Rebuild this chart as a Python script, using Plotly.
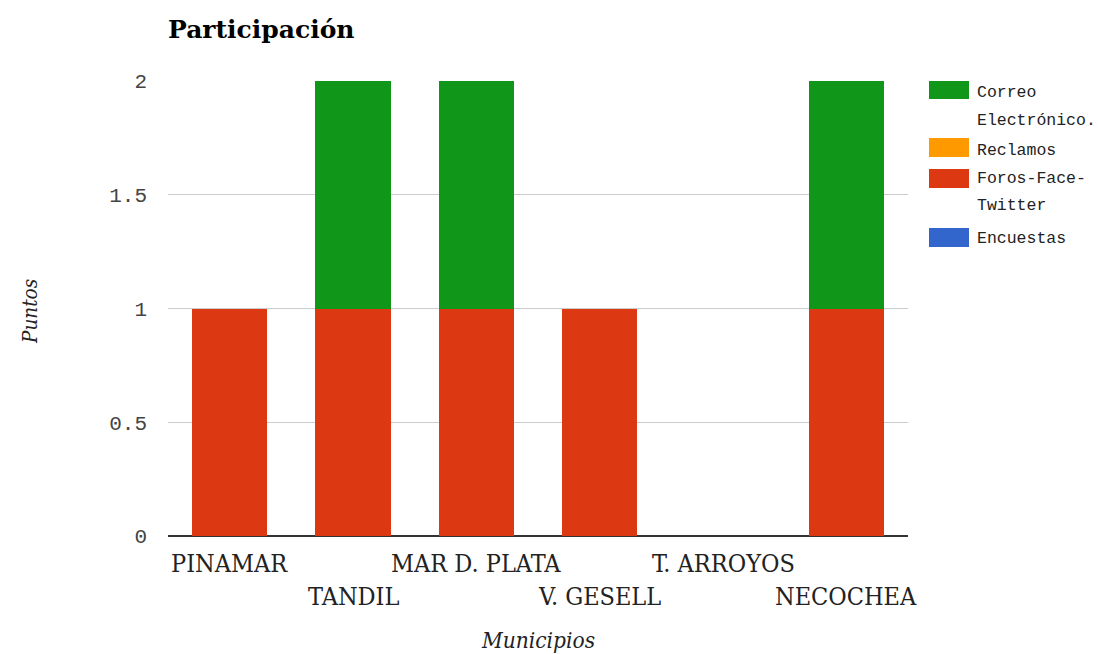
import plotly.graph_objects as go

# Municipios y puntos de participación por canal
municipios = ["PINAMAR", "TANDIL", "MAR D. PLATA", "V. GESELL", "T. ARROYOS", "NECOCHEA"]
correo = [0, 1, 1, 0, 0, 1]
reclamos = [0, 0, 0, 0, 0, 0]
foros = [1, 1, 1, 1, 0, 1]
encuestas = [0, 0, 0, 0, 0, 0]

y_ticks = [0, 0.5, 1, 1.5, 2]
y_tick_text = ["0", "0.5", "1", "1.5", "2"]

# stacking order bottom -> top
series = [
    ("Encuestas", encuestas, "#3366cc"),
    ("Foros-Face-Twitter", foros, "#dc3912"),
    ("Reclamos", reclamos, "#ff9900"),
    ("Correo Electrónico.", correo, "#109618"),
]

label_font = "DejaVu Serif Condensed, DejaVu Serif, serif"
mono_font = "Liberation Mono, Courier New, monospace"

fig = go.Figure()
for name, vals, color in series:
    fig.add_trace(go.Bar(
        x=municipios, y=vals, name=name,
        marker=dict(color=color, line=dict(width=0)),
        showlegend=False,
    ))

W, H = 1098, 654
ml, mr, mt, mb = 168, 190, 81, 118
plot_w = W - ml - mr
plot_h = H - mt - mb


def px(x):
    # pixel column -> paper x (relative to plot area)
    return (x - ml) / plot_w


def py(y):
    # pixel row -> paper y (relative to plot area)
    return (H - mb - y) / plot_h


fig.update_layout(
    width=W, height=H,
    barmode="stack",
    bargap=0.39,
    plot_bgcolor="white", paper_bgcolor="white",
    margin=dict(l=ml, r=mr, t=mt, b=mb, pad=0),
    xaxis=dict(range=[-0.5, len(municipios) - 0.5], autorange=False,
               showticklabels=False, showgrid=False, zeroline=False,
               showline=False, ticks=""),
    yaxis=dict(range=[0, 2], autorange=False, tickvals=y_ticks, ticktext=y_tick_text,
               showgrid=True, gridcolor="#cccccc", gridwidth=1,
               zeroline=True, zerolinecolor="#333333", zerolinewidth=2,
               tickfont=dict(family=mono_font, size=21, color="#444444"),
               ticklabelstandoff=20, showline=False, ticks=""),
)

# category labels, alternating between two rows
annotations = []
for i, m in enumerate(municipios):
    row_y = 563 if i % 2 == 0 else 596
    annotations.append(dict(
        x=m, xref="x", y=py(row_y), yref="paper",
        text=m, showarrow=False, xanchor="center", yanchor="middle",
        font=dict(family=label_font, size=25, color="#222222"),
    ))

# title and axis titles
annotations.append(dict(
    x=px(166), y=py(30), xref="paper", yref="paper", xanchor="left", yanchor="middle",
    text="<b>Participación</b>", showarrow=False,
    font=dict(family="DejaVu Serif, serif", size=25, color="#000000"),
))
annotations.append(dict(
    x=px(538), y=py(640), xref="paper", yref="paper", xanchor="center", yanchor="middle",
    text="<i>Municipios</i>", showarrow=False,
    font=dict(family=label_font, size=22.5, color="#222222"),
))
annotations.append(dict(
    x=px(30), y=py(312), xref="paper", yref="paper", xanchor="center", yanchor="middle",
    text="<i>Puntos</i>", showarrow=False, textangle=-90,
    font=dict(family=label_font, size=20.5, color="#222222"),
))

# legend: swatch + wrapped label lines
legend_items = [
    ("#109618", 81, 99, [("Correo", 92), ("Electrónico.", 120)]),
    ("#ff9900", 138, 157, [("Reclamos", 150)]),
    ("#dc3912", 169, 188, [("Foros-Face-", 178), ("Twitter", 205)]),
    ("#3366cc", 228, 247, [("Encuestas", 238)]),
]
shapes = []
for color, y0, y1, lines in legend_items:
    shapes.append(dict(type="rect", xref="paper", yref="paper",
                       x0=px(929), x1=px(969), y0=py(y1), y1=py(y0),
                       fillcolor=color, line=dict(width=0)))
    for txt, yc in lines:
        annotations.append(dict(
            x=px(975), y=py(yc), xref="paper", yref="paper",
            xanchor="left", yanchor="middle", text=txt, showarrow=False,
            font=dict(family=mono_font, size=16.5, color="#222222"),
        ))

fig.update_layout(annotations=annotations, shapes=shapes)
fig.write_html("out.html")
